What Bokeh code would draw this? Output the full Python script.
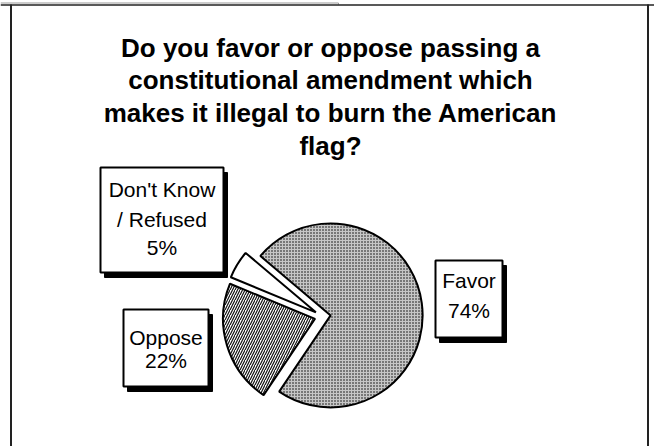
import numpy as np
from bokeh.plotting import figure
from bokeh.models import Range1d
from bokeh.embed import file_html
from bokeh.resources import INLINE
from bokeh.core.properties import value

# ---- data ----
title_lines = ["Do you favor or oppose passing a",
               "constitutional amendment which",
               "makes it illegal to burn the American",
               "flag?"]
categories = ["Favor", "Don't Know / Refused", "Oppose"]
values = [74, 5, 22]
name_lines = [["Favor"], ["Don't Know", "/ Refused"], ["Oppose"]]
pct_labels = [f"{v}%" for v in values]

# ---- layout ----
W, H = 654, 446
TXT_SHIFT = 8


def Y(yp):
    return H - yp


p = figure(width=W, height=H, x_range=Range1d(0, W), y_range=Range1d(0, H),
           output_backend="svg", toolbar_location=None, min_border=0,
           x_axis_type=None, y_axis_type=None)
p.outline_line_color = None
p.background_fill_color = "white"
p.border_fill_color = "white"

# frame
p.line(x=[0, 338, 338], y=[Y(2.5), Y(2.5), Y(4)], line_color="#999999", line_width=1)
p.line(x=[0, W], y=[Y(4.5), Y(4.5)], line_color="#222222", line_width=1.5)
p.line(x=[10.5, 10.5], y=[Y(4), Y(460)], line_color="#222222", line_width=2)
p.line(x=[647.5, 647.5], y=[Y(4), Y(460)], line_color="#222222", line_width=2)

# title
FONT = value("Liberation Sans")
title_base = [55, 87, 120, 153]
p.text(x=[330] * len(title_lines), y=[Y(b - TXT_SHIFT) for b in title_base], text=title_lines,
       text_font=FONT, text_font_size="26px", text_font_style="bold",
       text_align="center", text_baseline="alphabetic", text_color="black")

# pie
vals = np.array(values, dtype=float)
span = vals / vals.sum() * 2 * np.pi
start0 = np.deg2rad(236)
starts = start0 + np.concatenate([[0.0], np.cumsum(span)[:-1]])
ends = starts + span
mids = (starts + ends) / 2
cx, cy = 322.2, Y(316)
explode = 8
R = 92
xs = cx + explode * np.cos(mids)
ys = cy + explode * np.sin(mids)

styles = [
    dict(fill_color="#c6c6c6", hatch_pattern="dot", hatch_scale=3, hatch_weight=1.8, hatch_color="#000000"),
    dict(fill_color="white"),
    dict(fill_color="white", hatch_pattern="right_diagonal_line", hatch_scale=5, hatch_weight=1.2, hatch_color="#111111"),
]
for i in range(len(values)):
    p.wedge(x=[xs[i]], y=[ys[i]], radius=R, start_angle=[starts[i]], end_angle=[ends[i]],
            line_color="black", line_width=2, **styles[i])

# label boxes (left, top, right, bottom in page px)
boxes = [(435, 260, 502, 337), (100, 167, 223, 272), (123, 309, 208, 386)]
line_bases = [[288, 318], [197, 227, 255], [345, 368]]
for i, (l, t, r, b) in enumerate(boxes):
    p.quad(left=l + 4, right=r + 4, top=Y(t + 5), bottom=Y(b + 5),
           fill_color="black", line_color="black")
    p.quad(left=l, right=r, top=Y(t), bottom=Y(b),
           fill_color="white", line_color="black", line_width=2)
    lines = name_lines[i] + [pct_labels[i]]
    xc = (l + r) / 2
    p.text(x=[xc] * len(lines), y=[Y(v - TXT_SHIFT) for v in line_bases[i]], text=lines,
           text_font=FONT, text_font_size="21px", text_align="center",
           text_baseline="alphabetic", text_color="black")

open("out.html", "w").write(file_html(p, INLINE))
